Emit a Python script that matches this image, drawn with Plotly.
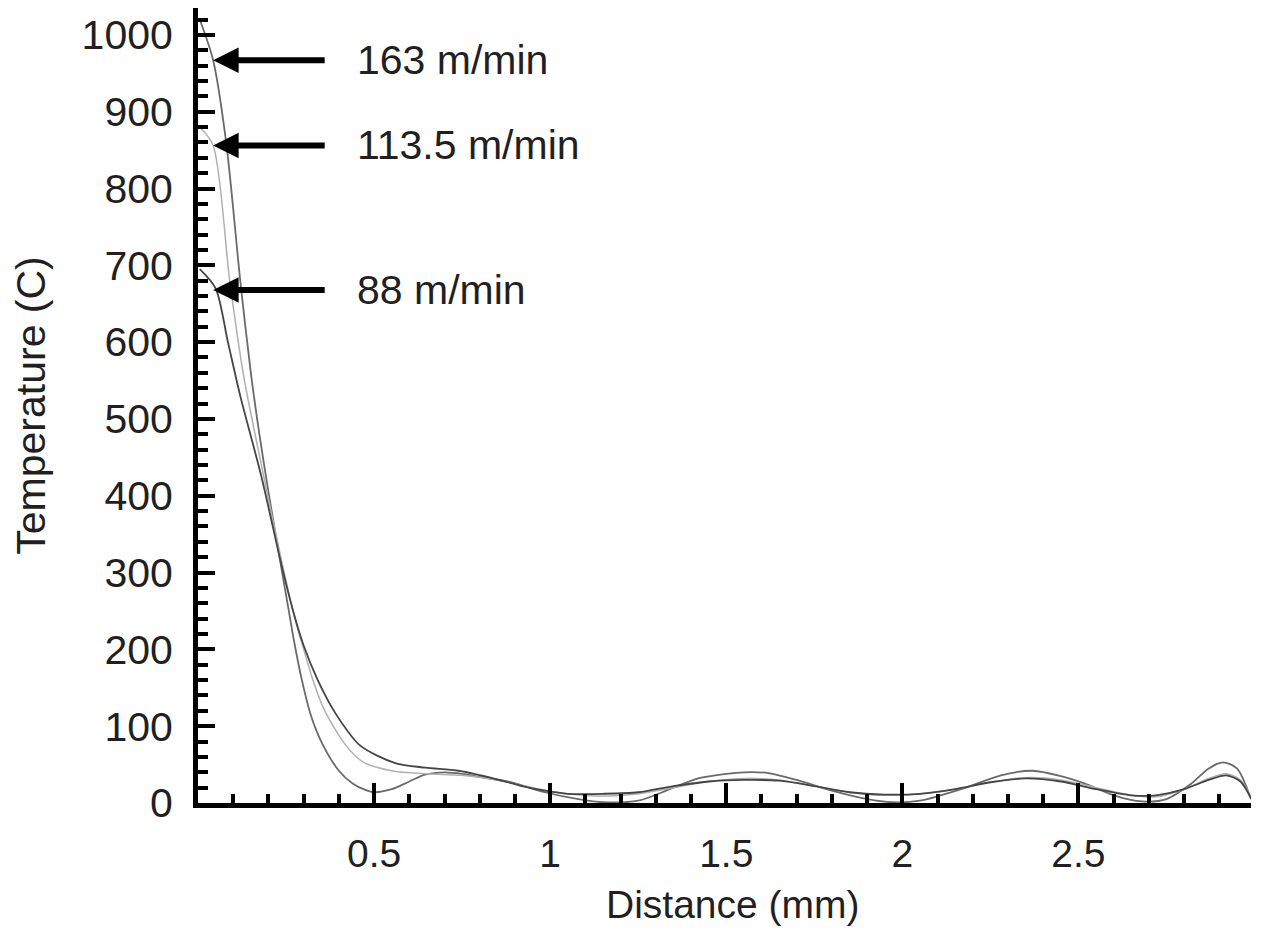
import plotly.graph_objects as go

# ---- data ----
speeds = ["163 m/min", "113.5 m/min", "88 m/min"]

x_163 = [0.005, 0.043, 0.08, 0.12, 0.15, 0.175, 0.2, 0.236, 0.256, 0.275, 0.295, 0.32, 0.35, 0.40, 0.44,
         0.475, 0.5, 0.55, 0.6, 0.645, 0.7, 0.75, 0.8, 0.89, 0.985, 1.08, 1.15, 1.25, 1.34, 1.42, 1.5,
         1.55, 1.62, 1.7, 1.8, 1.9, 1.97, 2.05, 2.18, 2.28, 2.37, 2.45, 2.52, 2.6, 2.68, 2.75, 2.82,
         2.87, 2.91, 2.95, 2.99]
y_163 = [1020, 967, 860, 680, 560, 478, 405, 308, 255, 205, 160, 115, 80, 42, 25,
         17, 14, 18, 28, 37, 40, 38, 34, 27, 14, 5, 1, 3, 18, 32, 38,
         40, 39, 30, 16, 5, 1, 3, 20, 36, 42, 35, 25, 10, 2, 5, 25,
         45, 53, 45, 5]

x_113 = [0.005, 0.043, 0.09, 0.13, 0.18, 0.236, 0.27, 0.30, 0.33, 0.36, 0.42, 0.47, 0.55,
         0.65, 0.75, 0.85, 0.95, 1.05, 1.15, 1.25, 1.35, 1.45, 1.55, 1.65, 1.75, 1.85, 1.95, 2.05,
         2.15, 2.25, 2.35, 2.45, 2.55, 2.65, 2.72, 2.8, 2.87, 2.92, 2.96, 2.99]
y_113 = [880, 856, 680, 555, 440, 318, 250, 200, 155, 120, 75, 53, 42,
         38, 36, 30, 20, 12, 9, 12, 20, 28, 32, 30, 22, 14, 10, 12,
         18, 27, 33, 30, 20, 10, 8, 18, 32, 38, 30, 8]

x_88 = [0.005, 0.05, 0.085, 0.12, 0.18, 0.236, 0.27, 0.30, 0.34, 0.39, 0.46, 0.56, 0.645,
        0.74, 0.83, 0.93, 0.985, 1.05, 1.15, 1.25, 1.35, 1.45, 1.55, 1.65, 1.75, 1.85, 1.95,
        2.05, 2.15, 2.25, 2.35, 2.45, 2.55, 2.65, 2.72, 2.8, 2.87, 2.92, 2.96, 2.99]
y_88 = [695, 670, 600, 530, 425, 312, 250, 205, 160, 117, 75, 52, 46,
        42, 33, 21, 16, 12, 12, 14, 22, 28, 30, 29, 22, 14, 11,
        12, 18, 27, 32, 28, 18, 10, 10, 18, 30, 36, 28, 6]

arrow_heads_y = [967, 856, 668]

x_tickvals = [0.5, 1, 1.5, 2, 2.5]
x_ticktext = ["0.5", "1", "1.5", "2", "2.5"]
y_tickvals = [0, 100, 200, 300, 400, 500, 600, 700, 800, 900, 1000]
y_ticktext = [str(v) for v in y_tickvals]

FONT = "Liberation Sans, Arial, sans-serif"
TXT = "#231f20"
FS = 41
FS_X = 39

fig = go.Figure()
series = [(x_163, y_163, "#6a6a6a", 1.8), (x_113, y_113, "#b0b0b0", 1.5), (x_88, y_88, "#454545", 1.8)]
for (xs, ys, col, w), name in zip(series, speeds):
    fig.add_trace(go.Scatter(x=xs, y=ys, mode="lines", name=name,
                             line=dict(color=col, width=w, shape="spline", smoothing=0.8),
                             showlegend=False))

for yv, label in zip(arrow_heads_y, speeds):
    fig.add_annotation(x=0.043, y=yv, ax=0.364, ay=yv, xref="x", yref="y", axref="x", ayref="y",
                       text="", showarrow=True, arrowhead=2, arrowsize=0.85, arrowwidth=6,
                       arrowcolor="#000000")
    fig.add_annotation(x=0.445, y=yv, xref="x", yref="y", text=label, showarrow=False,
                       xanchor="left", yanchor="middle", font=dict(family=FONT, size=FS, color=TXT))

# x-axis title placed as text below the tick labels
fig.add_annotation(x=0.508, y=-0.128, xref="paper", yref="paper", text="Distance (mm)",
                   showarrow=False, xanchor="center", yanchor="middle",
                   font=dict(family=FONT, size=FS_X, color=TXT))

fig.update_xaxes(range=[0, 2.99], tickvals=x_tickvals, ticktext=x_ticktext,
                 showline=True, linecolor="black", linewidth=5, mirror=False,
                 ticks="inside", ticklen=20, tickwidth=4, tickcolor="black",
                 minor=dict(ticks="inside", ticklen=9, tickwidth=4, tickcolor="black", dtick=0.1, tick0=0),
                 showgrid=False, zeroline=False, ticklabelstandoff=12,
                 tickfont=dict(family=FONT, size=FS_X, color=TXT))
fig.update_yaxes(range=[0, 1035], tickvals=y_tickvals, ticktext=y_ticktext,
                 showline=True, linecolor="black", linewidth=5, mirror=False,
                 ticks="inside", ticklen=17, tickwidth=4, tickcolor="black",
                 minor=dict(ticks="inside", ticklen=10, tickwidth=4, tickcolor="black", dtick=20, tick0=0),
                 showgrid=False, zeroline=False, ticklabelstandoff=12,
                 tickfont=dict(family=FONT, size=FS, color=TXT),
                 title=dict(text="Temperature (C)", font=dict(family=FONT, size=FS, color=TXT), standoff=25))

fig.update_layout(width=1261, height=940, margin=dict(l=190, r=18, t=0, b=145),
                  plot_bgcolor="white", paper_bgcolor="white")

fig.write_html("out.html")
